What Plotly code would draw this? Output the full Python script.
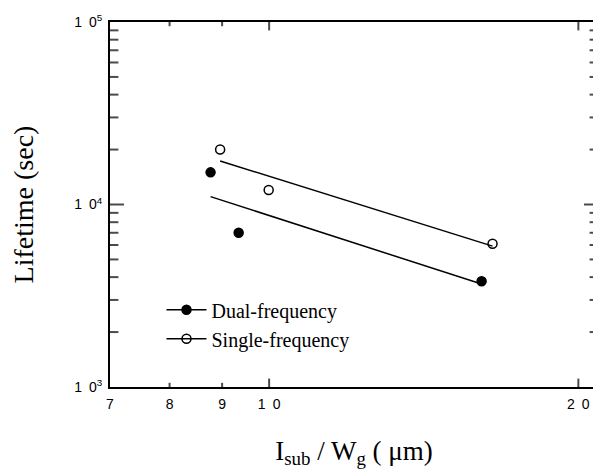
import numpy as np
import plotly.graph_objects as go

# Data (log-log)
dual_x = [8.77, 9.34, 16.1]
dual_y = [15000, 7000, 3800]
single_x = [8.96, 9.99, 16.5]
single_y = [20000, 12000, 6100]

x_tickvals = [7, 8, 9, 10, 20]
x_ticktext = ["7", "8", "9", "1\u20020", "2\u20020"]
y_tickvals = [1e3, 1e4, 1e5]
y_ticktext = ["1\u20020<sup>3</sup>", "1\u20020<sup>4</sup>", "1\u20020<sup>5</sup>"]
y_minor = [m * 10 ** e for e in (3, 4) for m in range(2, 10)]
x_major_ticks = [10, 20]
x_minor_ticks = [8, 9]

X_RANGE = [np.log10(7), np.log10(20.9)]
Y_RANGE = [3, 5]


def power_fit(xs, ys):
    lx, ly = np.log10(xs), np.log10(ys)
    k, b = np.polyfit(lx, ly, 1)
    xe = np.array([min(xs), max(xs)])
    return xe, 10 ** (k * np.log10(xe) + b)


fig = go.Figure()
for xs, ys, name, sym in [
    (dual_x, dual_y, "Dual-frequency", "circle"),
    (single_x, single_y, "Single-frequency", "circle-open"),
]:
    fx, fy = power_fit(xs, ys)
    fig.add_trace(go.Scatter(x=fx, y=fy, mode="lines", showlegend=False,
                             line=dict(color="black", width=1.5), hoverinfo="skip"))
    fig.add_trace(go.Scatter(x=xs, y=ys, mode="markers", showlegend=False,
                             marker=dict(symbol=sym, size=9, color="black",
                                         line=dict(color="black", width=1.5))))
    fig.add_trace(go.Scatter(x=[None], y=[None], mode="lines+markers", name=name,
                             line=dict(color="black", width=1.5),
                             marker=dict(symbol=sym, size=9, color="black",
                                         line=dict(color="black", width=1.5))))

# inside tick marks on all four sides: line markers centred on the frame,
# the outer half is clipped away by the plot area
yt = y_tickvals[1:-1] + y_minor
ylen = [20 if v in y_tickvals else 12 for v in yt]
xt = x_major_ticks + x_minor_ticks
xlen = [12 if v in x_major_ticks else 6 for v in xt]
x_lo, x_hi = 10 ** X_RANGE[0], 10 ** X_RANGE[1]
y_lo, y_hi = 10 ** Y_RANGE[0], 10 ** Y_RANGE[1]
fig.add_trace(go.Scatter(
    x=[x_lo] * len(yt) + [x_hi] * len(yt), y=yt + yt,
    mode="markers", showlegend=False, hoverinfo="skip", cliponaxis=True,
    marker=dict(symbol="line-ew", size=ylen + ylen, color="black",
                line=dict(color="black", width=2))))
fig.add_trace(go.Scatter(
    x=xt + xt, y=[y_lo] * len(xt) + [y_hi] * len(xt),
    mode="markers", showlegend=False, hoverinfo="skip", cliponaxis=True,
    marker=dict(symbol="line-ns", size=xlen + xlen, color="black",
                line=dict(color="black", width=2))))

tickfont = dict(family="Arial", size=14, color="black")
serif = "Liberation Serif"

fig.update_layout(
    width=593, height=462,
    margin=dict(l=102, r=3, t=14, b=83),
    paper_bgcolor="white", plot_bgcolor="white",
    showlegend=True,
    legend=dict(x=0.1055, y=0.172, xanchor="left", yanchor="middle",
                bgcolor="rgba(0,0,0,0)",
                font=dict(family=serif, size=20, color="black"),
                itemwidth=40),
)
fig.update_xaxes(
    type="log", range=X_RANGE, automargin=False,
    tickmode="array", tickvals=x_tickvals, ticktext=x_ticktext, tickfont=tickfont,
    ticks="", ticklabelstandoff=3,
    showline=True, linecolor="black", linewidth=2, mirror=True,
    showgrid=False, zeroline=False,
    title=dict(text="I<sub>sub</sub> / W<sub>g</sub> ( μm)",
               font=dict(family=serif, size=27, color="black"), standoff=30),
)
fig.update_yaxes(
    type="log", range=Y_RANGE, automargin=False,
    tickmode="array", tickvals=y_tickvals, ticktext=y_ticktext, tickfont=tickfont,
    ticks="", ticklabelstandoff=3,
    showline=True, linecolor="black", linewidth=2, mirror=True,
    showgrid=False, zeroline=False,
    title=dict(text="Lifetime (sec)",
               font=dict(family=serif, size=28, color="black"), standoff=42),
)

fig.write_html("out.html")
